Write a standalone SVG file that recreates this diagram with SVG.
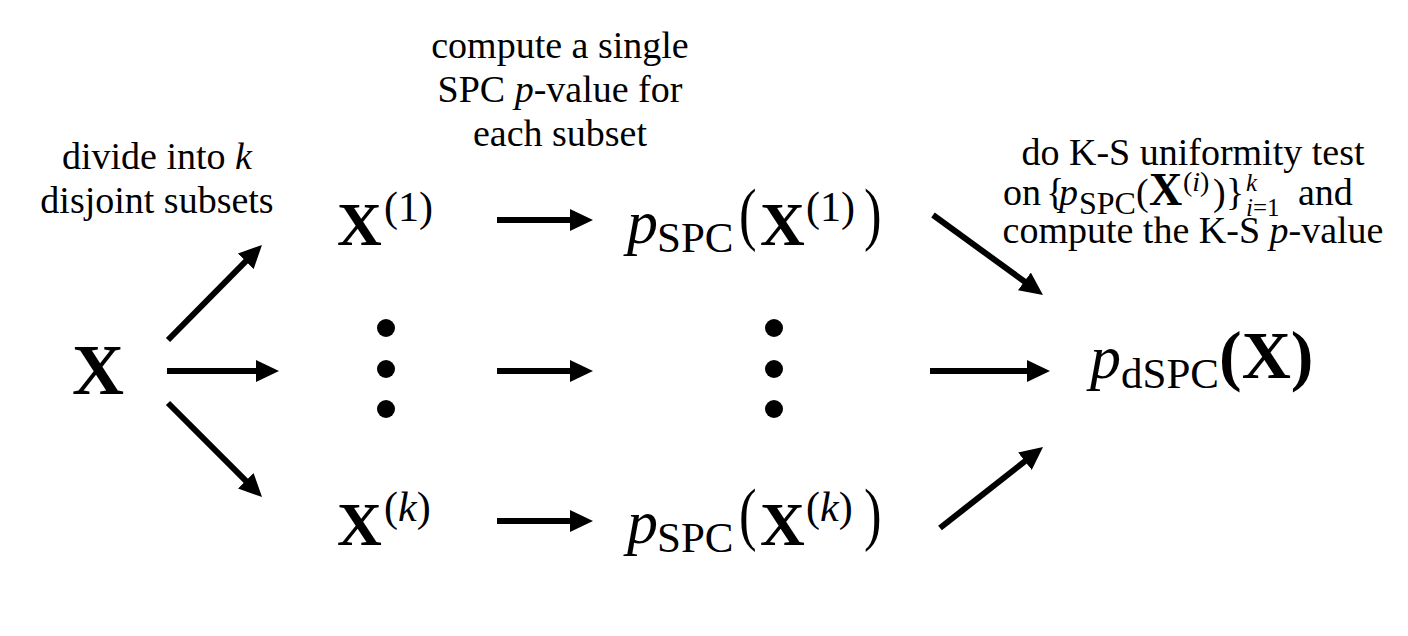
<svg xmlns="http://www.w3.org/2000/svg" width="1408" height="636" viewBox="0 0 1408 636">
<style>
text{font-family:"Liberation Serif","Times New Roman",serif;fill:#000}
.lbl{font-size:38px}
.it{font-style:italic}
.b{font-weight:bold}
.arr{stroke:#000;stroke-width:6;fill:none;marker-end:url(#ah)}
.dot{fill:#000}
</style>
<defs>
<marker id="ah" markerUnits="userSpaceOnUse" markerWidth="24" markerHeight="22" refX="3" refY="11" orient="auto">
<path d="M0,0 L23,11 L0,22 z" fill="#000"/>
</marker>
</defs>
<rect width="1408" height="636" fill="#fff"/>

<g id="label-divide">
<text class="lbl" x="157" y="169" text-anchor="middle">divide into <tspan class="it">k</tspan></text>
<text class="lbl" x="157" y="213" text-anchor="middle">disjoint subsets</text>
</g>

<g id="label-compute">
<text class="lbl" x="560" y="58" text-anchor="middle">compute a single</text>
<text class="lbl" x="560" y="102" text-anchor="middle">SPC <tspan class="it">p</tspan>-value for</text>
<text class="lbl" x="560" y="146" text-anchor="middle">each subset</text>
</g>

<g id="label-ks">
<text class="lbl" x="1193" y="165" text-anchor="middle">do K-S uniformity test</text>
<text class="lbl" x="1003" y="205">on</text>
<text class="lbl" x="1046" y="205">{</text>
<text class="lbl it" x="1059" y="205">p</text>
<text x="1079" y="214" font-size="32">SPC</text>
<text class="lbl" x="1136" y="205">(</text>
<text class="b" x="1149" y="205" font-size="46">X</text>
<text x="1183" y="191" font-size="28">(<tspan class="it">i</tspan>)</text>
<text class="lbl" x="1213" y="205">)</text>
<text class="lbl" x="1226" y="205">}</text>
<text class="it" x="1246" y="191" font-size="25">k</text>
<text x="1246" y="216" font-size="25"><tspan class="it">i</tspan>=1</text>
<text class="lbl" x="1298" y="205">and</text>
<text class="lbl" x="1193" y="243" text-anchor="middle">compute the K-S <tspan class="it">p</tspan>-value</text>
</g>

<g id="node-X">
<text class="b" x="72" y="394" font-size="72">X</text>
</g>

<g id="node-X1">
<text class="b" x="337" y="245" font-size="62">X</text>
<text x="384" y="221" font-size="42">(1)</text>
</g>

<g id="node-dots-left">
<circle class="dot" cx="386" cy="328" r="9"/>
<circle class="dot" cx="386" cy="369" r="9"/>
<circle class="dot" cx="386" cy="409" r="9"/>
</g>

<g id="node-Xk">
<text class="b" x="337" y="545" font-size="62">X</text>
<text x="384" y="521" font-size="42">(<tspan class="it">k</tspan>)</text>
</g>

<g id="node-pSPC1">
<text class="it" x="627" y="243" font-size="62">p</text>
<text x="657" y="252" font-size="43">SPC</text>
<text transform="translate(739,237) scale(1.1,1.44)" font-size="48">(</text>
<text class="b" x="760" y="245" font-size="62">X</text>
<text x="806" y="221" font-size="42">(1)</text>
<text transform="translate(864,237) scale(1.1,1.44)" font-size="48">)</text>
</g>

<g id="node-dots-mid">
<circle class="dot" cx="774" cy="328" r="9"/>
<circle class="dot" cx="774" cy="369" r="9"/>
<circle class="dot" cx="774" cy="409" r="9"/>
</g>

<g id="node-pSPCk">
<text class="it" x="627" y="543" font-size="62">p</text>
<text x="657" y="552" font-size="43">SPC</text>
<text transform="translate(739,537) scale(1.1,1.44)" font-size="48">(</text>
<text class="b" x="760" y="545" font-size="62">X</text>
<text x="806" y="521" font-size="42">(<tspan class="it">k</tspan>)</text>
<text transform="translate(864,537) scale(1.1,1.44)" font-size="48">)</text>
</g>

<g id="node-pdSPC">
<text class="it" x="1090" y="378" font-size="62">p</text>
<text x="1121" y="388" font-size="43">dSPC</text>
<text class="b" x="1219" y="378" font-size="68">(X)</text>
</g>

<g id="connectors">
<line class="arr" x1="168" y1="340" x2="247.9" y2="259.2"/>
<line class="arr" x1="167" y1="371" x2="259" y2="371"/>
<line class="arr" x1="168" y1="403" x2="247.9" y2="482.9"/>
<line class="arr" x1="497" y1="220" x2="573" y2="220"/>
<line class="arr" x1="497" y1="371" x2="573" y2="371"/>
<line class="arr" x1="497" y1="521" x2="573" y2="521"/>
<line class="arr" x1="933" y1="215" x2="1026.8" y2="283.2"/>
<line class="arr" x1="930" y1="371" x2="1030" y2="371"/>
<line class="arr" x1="940" y1="528" x2="1027.3" y2="459.4"/>
</g>
</svg>
